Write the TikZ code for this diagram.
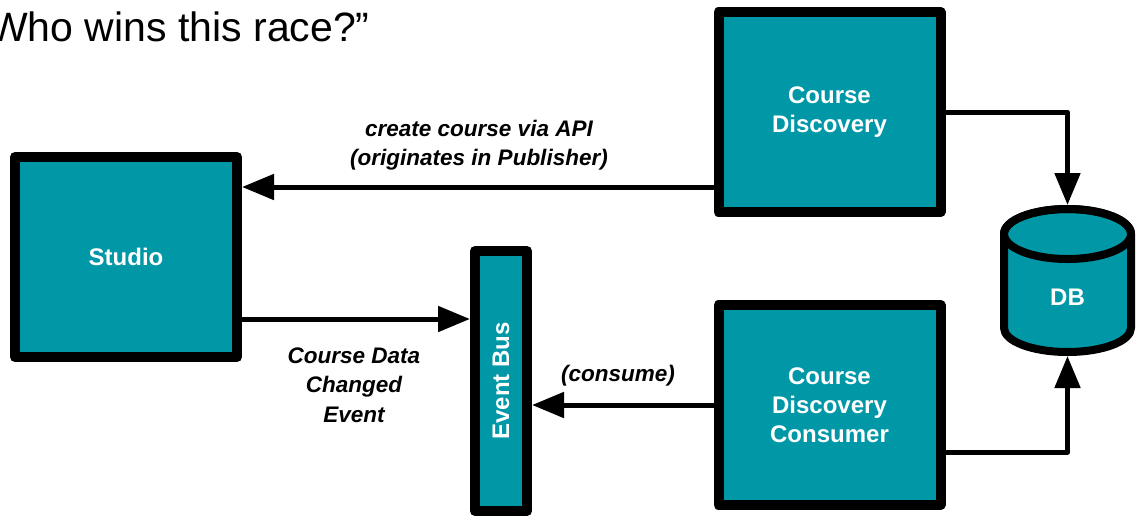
\documentclass[tikz,border=0pt]{standalone}
\usepackage{fontspec}
\setmainfont{Liberation Sans}
\usetikzlibrary{arrows.meta}
\definecolor{svcteal}{HTML}{0097A7}

\begin{document}
\begin{tikzpicture}[x=1pt,y=-1pt,
  box/.style={draw=black, fill=svcteal, line width=10pt, line join=round,
    minimum width=222pt, minimum height=200pt, inner sep=0pt,
    text=white, font=\bfseries\fontsize{24}{29}\selectfont, align=center},
  flow/.style={line width=5pt, -{Triangle[length=32pt,width=25pt]}},
  note/.style={font=\bfseries\itshape\fontsize{22.5}{29.5}\selectfont,
    align=center, inner sep=0pt}]
\useasboundingbox (0,0) rectangle (1136,515);

% heading
\node[anchor=base west, inner sep=0pt, font=\fontsize{41}{48}\selectfont]
  (title) at (-11,41) {Who wins this race?”};

% services
\node[box] (cd) at (829.5,112) {Course\\Discovery};
\node[box] (studio) at (126,257) {Studio};
\node[box] (consumer) at (829.5,405) {Course\\Discovery\\Consumer};
\node[box, minimum width=52pt, minimum height=260pt] (eb) at (501,381)
  {\rotatebox{90}{Event Bus}};

% database cylinder
\node[minimum width=135pt, minimum height=151pt, inner sep=0pt, outer sep=0pt]
  (db) at (1067.5,280.5) {};
\path[draw=black, fill=svcteal, line width=8pt, line join=round]
  (1004,234) -- (1004,328)
  arc[start angle=180, end angle=0, x radius=63.5, y radius=24]
  -- (1131,234)
  arc[start angle=0, end angle=-180, x radius=63.5, y radius=25] -- cycle;
\draw[line width=8pt] (1067.5,234) ellipse [x radius=63.5, y radius=25];
\node[text=white, font=\bfseries\fontsize{24}{29}\selectfont] (dbtext)
  at (1067.5,297) {DB};

% connectors
\coordinate (apiy) at (0,187);
\coordinate (evty) at (0,319);
\coordinate (wrty) at (0,452);
\draw[flow] (cd.west |- apiy) -- (studio.east |- apiy);
\draw[flow] (studio.east |- evty) -- (eb.west |- evty);
\draw[flow] (consumer.west) -- (eb.east |- consumer.west);
\draw[flow, line join=round] (cd.east) -| (db.north);
\draw[flow, line join=round] (consumer.east |- wrty) -| (db.south);

% connector labels
\node[note] (apilabel) at (479,145) {create course via API\\(originates in Publisher)};
\node[note] (evtlabel) at (354,385) {Course Data\\Changed\\Event};
\node[note] (conslabel) at (618,376) {(consume)};
\end{tikzpicture}
\end{document}
